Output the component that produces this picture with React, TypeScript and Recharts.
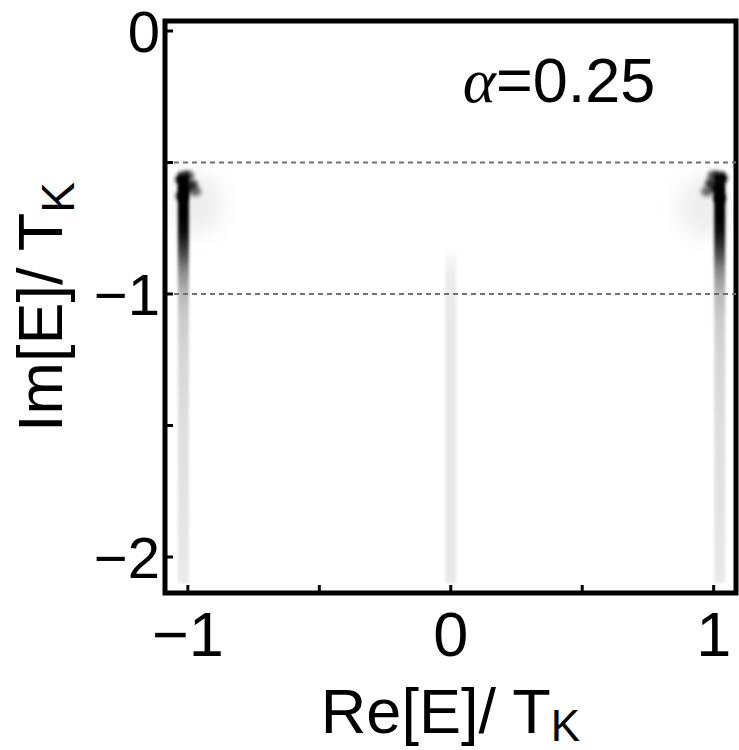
import { ComposedChart, XAxis, YAxis, ReferenceArea, ReferenceLine, ReferenceDot, Scatter } from "recharts"

// axis setup
const xDomain = [-1.087, 1.085]
const yDomain = [-2.137, 0.038]
const xTicks = [-1, -0.5, 0, 0.5, 1]
const yTicks = [0, -0.5, -1, -1.5, -2]
const guideLevels = [-0.5, -1]

// vertical density streaks (Re position, Im extent, which profile)
const streakRe = [-1.017, 0, 1.023]
const streakTop = [-0.53, -0.82, -0.53]
const streakBottom = [-2.1, -2.1, -2.1]
const streakKind = ["side", "center", "side"]

// darkness along the streaks, 0 = white, 1 = black
const sideIm = [-0.53, -0.56, -0.6, -0.7, -0.76, -0.8, -0.85, -0.9, -0.95, -1.0, -1.1, -1.25, -1.5, -1.8, -2.05, -2.1]
const sideLevel = [0.2, 0.9, 1, 1, 0.95, 0.85, 0.7, 0.5, 0.38, 0.28, 0.2, 0.16, 0.13, 0.11, 0.09, 0.08]
const centerIm = [-0.82, -0.88, -0.95, -1.1, -1.5, -2.0, -2.1]
const centerLevel = [0, 0.05, 0.08, 0.09, 0.09, 0.09, 0.09]

// dark knots at the top of the side streaks
const blobRe = [-1.025, -1.0, -0.985, -0.972, -1.022, -1.01, 1.03, 1.0, 0.99, 0.975, 1.022, 1.01]
const blobIm = [-0.565, -0.55, -0.585, -0.61, -0.628, -0.6, -0.56, -0.55, -0.58, -0.61, -0.635, -0.6]
const blobLevel = [1, 0.7, 0.8, 0.55, 1, 0.9, 1, 0.7, 0.8, 0.55, 1, 0.9]

// soft halo next to the knots
const haloRe = [-0.96, 0.958]
const haloIm = [-0.66, -0.67]
const haloLevel = [0.07, 0.07]

const alphaLabel = { re: 0.046, im: -0.27 }

const blobs = blobRe.map((re, i) => ({ re, im: blobIm[i], level: blobLevel[i] }))
const halos = haloRe.map((re, i) => ({ re, im: haloIm[i], level: haloLevel[i] }))

const font = "'Liberation Sans', Arial, sans-serif"

const fmt = (v: number) => (v < 0 ? "\u2212" + Math.abs(v) : String(v))

function gradientStops(top: number, bottom: number, ims: number[], levels: number[]) {
    return ims.map((im, i) => (
        <stop key={i} offset={(top - im) / (top - bottom)} stopColor="#000" stopOpacity={levels[i]} />
    ))
}

function XTick({ x, y, payload }: any) {
    const v = payload.value
    return (
        <g>
            <line x1={x} x2={x} y1={y} y2={y - 8} stroke="#000" strokeWidth={3} />
            {Number.isInteger(v) && (
                <text x={x} y={y + 63} textAnchor="middle" fontSize={63} fontFamily={font} fill="#000">{fmt(v)}</text>
            )}
        </g>
    )
}

function YTick({ x, y, payload }: any) {
    const v = payload.value
    return (
        <g>
            <line x1={x} x2={x + 8} y1={y} y2={y} stroke="#000" strokeWidth={3} />
            {Number.isInteger(v) && (
                <text x={x - 5} y={y + 21} textAnchor="end" fontSize={58} fontFamily={font} fill="#000">{fmt(v)}</text>
            )}
        </g>
    )
}

export default function App() {
    return (
        <div style={{ position: "absolute", left: 0, top: 0 }}>
            <ComposedChart width={739} height={750} margin={{ top: 21, right: 3, left: 0, bottom: 0 }}>
                <defs>
                    <linearGradient id="side" x1="0" y1="0" x2="0" y2="1">
                        {gradientStops(streakTop[0], streakBottom[0], sideIm, sideLevel)}
                    </linearGradient>
                    <linearGradient id="center" x1="0" y1="0" x2="0" y2="1">
                        {gradientStops(streakTop[1], streakBottom[1], centerIm, centerLevel)}
                    </linearGradient>
                    <filter id="soft" x="-100%" y="-5%" width="300%" height="110%">
                        <feGaussianBlur stdDeviation="1.6" />
                    </filter>
                    <filter id="blobBlur" x="-200%" y="-200%" width="500%" height="500%">
                        <feGaussianBlur stdDeviation="2.2" />
                    </filter>
                    <filter id="haloBlur" x="-200%" y="-200%" width="500%" height="500%">
                        <feGaussianBlur stdDeviation="10" />
                    </filter>
                </defs>
                <XAxis
                    type="number" dataKey="re" domain={xDomain} ticks={xTicks} interval={0}
                    allowDataOverflow height={157} axisLine={false} tickLine={false} tickSize={0} tickMargin={0}
                    tick={<XTick />}
                    label={{
                        content: ({ viewBox }: any) => (
                            <text x={viewBox.x + viewBox.width / 2} y={viewBox.y + 140} textAnchor="middle"
                                fontSize={63} fontFamily={font} fill="#000">
                                Re[E]/ T<tspan fontSize={44} dy={8}>K</tspan>
                            </text>
                        )
                    }}
                />
                <YAxis
                    type="number" dataKey="im" domain={yDomain} ticks={yTicks} interval={0}
                    allowDataOverflow width={165} axisLine={false} tickLine={false} tickSize={0} tickMargin={0}
                    tick={<YTick />}
                    label={{
                        content: ({ viewBox }: any) => {
                            const cx = 62
                            const cy = viewBox.y + viewBox.height / 2
                            return (
                                <text x={cx} y={cy} transform={`rotate(-90 ${cx} ${cy})`} textAnchor="middle"
                                    fontSize={63} fontFamily={font} fill="#000">
                                    Im[E]/ T<tspan fontSize={46} dy={12}>K</tspan>
                                </text>
                            )
                        }
                    }}
                />

                {streakRe.map((re, i) => (
                    <ReferenceArea key={"s" + i} x1={re - 0.021} x2={re + 0.021} y1={streakBottom[i]} y2={streakTop[i]}
                        shape={(p: any) => (
                            <rect x={p.x} y={p.y} width={p.width} height={p.height}
                                fill={`url(#${streakKind[i]})`} filter="url(#soft)" />
                        )}
                    />
                ))}

                <Scatter data={halos} dataKey="im" isAnimationActive={false}
                    shape={(p: any) => (
                        <ellipse cx={p.cx} cy={p.cy} rx={24} ry={30} fill="#000" fillOpacity={p.payload.level} filter="url(#haloBlur)" />
                    )}
                />
                <Scatter data={blobs} dataKey="im" isAnimationActive={false}
                    shape={(p: any) => (
                        <ellipse cx={p.cx} cy={p.cy} rx={6} ry={5} fill="#000" fillOpacity={p.payload.level} filter="url(#blobBlur)" />
                    )}
                />

                {guideLevels.map((y) => (
                    <ReferenceLine key={y} y={y} stroke="#707070" strokeWidth={2.2} strokeDasharray="5 4" />
                ))}

                <ReferenceDot x={alphaLabel.re} y={alphaLabel.im} r={0}
                    label={{
                        content: ({ viewBox }: any) => (
                            <text x={viewBox.x} y={viewBox.y} fontSize={63} fontFamily={font} fill="#000">
                                <tspan fontFamily="'Liberation Serif', 'Times New Roman', serif" fontStyle="italic">α</tspan>=0.25
                            </text>
                        )
                    }}
                />

                <ReferenceArea x1={xDomain[0]} x2={xDomain[1]} y1={yDomain[0]} y2={yDomain[1]}
                    fill="none" fillOpacity={0} stroke="#000" strokeWidth={5} strokeOpacity={1} />
            </ComposedChart>
        </div>
    )
}
